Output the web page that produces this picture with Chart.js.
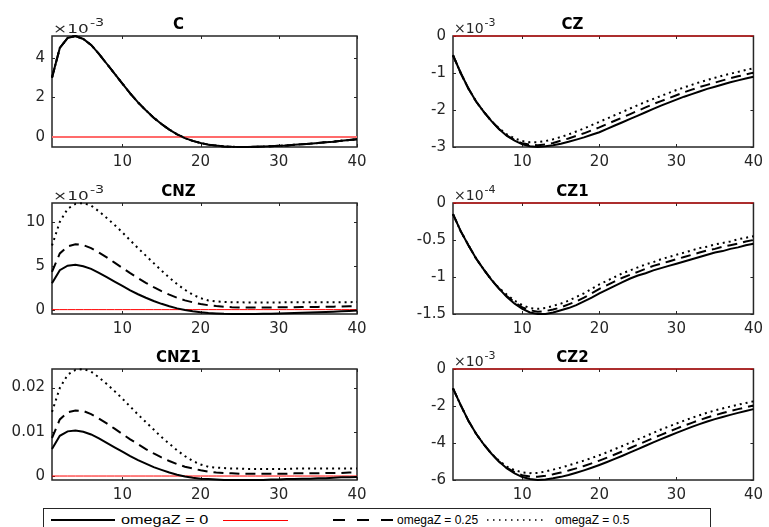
<!DOCTYPE html>
<html>
<head>
<meta charset="utf-8">
<script src="https://cdn.jsdelivr.net/npm/chart.js@4"></script>
<style>
  body { margin: 0; background: #fff; width: 769px; height: 527px; overflow: hidden; position: relative; font-family: "DejaVu Sans", sans-serif; }
  canvas { position: absolute; }
  #legend { position: absolute; left: 43px; top: 508px; width: 666px; height: 30px; border: 1px solid #262626; background: #fff; }
  .lg { position: absolute; top: 512px; font-family: "Liberation Sans", Arial, sans-serif; font-size: 12px; line-height: 16px; color: #000; white-space: nowrap; }
  .wide { font-size: 12.5px; transform: scaleX(1.3); transform-origin: 0 50%; }
</style>
</head>
<body>
<canvas id="pC" width="385" height="180" style="left:0;top:0"></canvas>
<canvas id="pCZ" width="384" height="180" style="left:385px;top:0"></canvas>
<canvas id="pCNZ" width="385" height="180" style="left:0;top:167px"></canvas>
<canvas id="pCZ1" width="384" height="180" style="left:385px;top:167px"></canvas>
<canvas id="pCNZ1" width="385" height="180" style="left:0;top:333px"></canvas>
<canvas id="pCZ2" width="384" height="180" style="left:385px;top:333px"></canvas>

<div id="legend"></div>
<svg width="769" height="527" style="position:absolute;left:0;top:0">
  <line x1="51" y1="520" x2="115" y2="520" stroke="#000" stroke-width="2"/>
  <line x1="223" y1="520.5" x2="288" y2="520.5" stroke="#ff0000" stroke-width="1"/>
  <line x1="333" y1="520" x2="395" y2="520" stroke="#000" stroke-width="2" stroke-dasharray="12,12"/>
  <line x1="487" y1="520" x2="547" y2="520" stroke="#000" stroke-width="1.5" stroke-dasharray="1.5,4.5"/>
</svg>
<span class="lg wide" style="left:121px">omegaZ = 0</span>
<span class="lg" style="left:397px">omegaZ = 0.25</span>
<span class="lg" style="left:555px">omegaZ = 0.5</span>

<script>
// horizon and axis ticks
const periods = [1,2,3,4,5,6,7,8,9,10,11,12,13,14,15,16,17,18,19,20,21,22,23,24,25,26,27,28,29,30,31,32,33,34,35,36,37,38,39,40];
const xTicks = [10, 20, 30, 40];
const zeroLine = [0,0,0,0,0,0,0,0,0,0,0,0,0,0,0,0,0,0,0,0,0,0,0,0,0,0,0,0,0,0,0,0,0,0,0,0,0,0,0,0];

// C (x10^-3) - same response for every omegaZ
const cAll = [3.0,4.5,5.0,5.1,4.95,4.65,4.2,3.7,3.2,2.7,2.2,1.75,1.35,0.98,0.66,0.38,0.14,-0.05,-0.19,-0.3,-0.38,-0.43,-0.47,-0.49,-0.5,-0.5,-0.49,-0.48,-0.46,-0.44,-0.42,-0.39,-0.36,-0.33,-0.3,-0.26,-0.23,-0.19,-0.15,-0.11];
const cTicks = [0, 2, 4];
const cRange = [-0.5, 5.1];

// CZ (x10^-3)
const czW0 = [-0.52,-1.0,-1.42,-1.77,-2.05,-2.3,-2.52,-2.7,-2.83,-2.93,-2.98,-3.0,-2.98,-2.95,-2.91,-2.86,-2.8,-2.74,-2.67,-2.6,-2.51,-2.42,-2.33,-2.24,-2.15,-2.06,-1.97,-1.88,-1.8,-1.72,-1.64,-1.57,-1.5,-1.43,-1.37,-1.31,-1.25,-1.2,-1.15,-1.1];
const czW025 = [-0.52,-1.0,-1.42,-1.77,-2.05,-2.3,-2.52,-2.69,-2.81,-2.9,-2.94,-2.95,-2.93,-2.89,-2.83,-2.77,-2.7,-2.63,-2.55,-2.47,-2.38,-2.29,-2.2,-2.11,-2.02,-1.93,-1.84,-1.76,-1.68,-1.6,-1.52,-1.45,-1.38,-1.32,-1.26,-1.2,-1.14,-1.09,-1.04,-0.99];
const czW05 = [-0.52,-1.0,-1.42,-1.77,-2.05,-2.3,-2.5,-2.66,-2.77,-2.84,-2.87,-2.87,-2.84,-2.79,-2.73,-2.66,-2.58,-2.5,-2.41,-2.32,-2.23,-2.14,-2.05,-1.96,-1.87,-1.78,-1.7,-1.62,-1.54,-1.46,-1.39,-1.32,-1.25,-1.19,-1.13,-1.07,-1.02,-0.97,-0.92,-0.87];
const czTicks = [-3, -2, -1, 0];
const czRange = [-3.0, 0];

// CNZ (x10^-3)
const cnzW0 = [3.0,4.5,5.0,5.1,4.95,4.65,4.2,3.7,3.2,2.7,2.2,1.75,1.35,0.98,0.66,0.38,0.14,-0.05,-0.19,-0.3,-0.38,-0.43,-0.47,-0.49,-0.5,-0.5,-0.49,-0.48,-0.46,-0.44,-0.42,-0.39,-0.36,-0.33,-0.3,-0.26,-0.23,-0.19,-0.15,-0.11];
const cnzW025 = [4.3,6.4,7.2,7.45,7.35,7.0,6.5,5.95,5.35,4.75,4.15,3.6,3.05,2.55,2.1,1.7,1.35,1.05,0.83,0.64,0.5,0.4,0.33,0.28,0.25,0.24,0.24,0.24,0.25,0.26,0.27,0.28,0.29,0.3,0.31,0.33,0.34,0.36,0.37,0.39];
const cnzW05 = [7.3,10.0,11.5,12.05,12.15,11.85,11.2,10.45,9.65,8.8,7.9,7.0,6.15,5.3,4.45,3.65,2.9,2.25,1.7,1.3,1.05,0.93,0.87,0.84,0.83,0.82,0.82,0.82,0.82,0.82,0.83,0.83,0.83,0.84,0.84,0.84,0.85,0.85,0.85,0.86];
const cnzTicks = [0, 5, 10];
const cnzRange = [-0.5, 12.15];

// CZ1 (x10^-4)
const cz1W0 = [-0.15,-0.38,-0.57,-0.75,-0.9,-1.04,-1.16,-1.27,-1.36,-1.43,-1.48,-1.5,-1.5,-1.48,-1.45,-1.42,-1.38,-1.33,-1.28,-1.22,-1.17,-1.12,-1.07,-1.02,-0.98,-0.95,-0.91,-0.88,-0.85,-0.82,-0.79,-0.76,-0.73,-0.7,-0.67,-0.65,-0.62,-0.6,-0.57,-0.55];
const cz1W025 = [-0.15,-0.38,-0.57,-0.75,-0.9,-1.04,-1.16,-1.26,-1.34,-1.41,-1.45,-1.47,-1.46,-1.44,-1.41,-1.37,-1.33,-1.28,-1.22,-1.16,-1.11,-1.06,-1.01,-0.97,-0.93,-0.89,-0.85,-0.82,-0.79,-0.76,-0.73,-0.7,-0.67,-0.64,-0.62,-0.59,-0.57,-0.55,-0.52,-0.5];
const cz1W05 = [-0.15,-0.38,-0.57,-0.75,-0.9,-1.04,-1.15,-1.24,-1.32,-1.38,-1.42,-1.43,-1.42,-1.39,-1.36,-1.32,-1.27,-1.22,-1.16,-1.1,-1.05,-1.0,-0.95,-0.91,-0.87,-0.83,-0.8,-0.76,-0.73,-0.7,-0.67,-0.64,-0.61,-0.59,-0.56,-0.54,-0.52,-0.49,-0.47,-0.45];
const cz1Ticks = [-1.5, -1, -0.5, 0];
const cz1Range = [-1.5, 0];

// CNZ1
const cnz1W0 = [0.0061,0.0091,0.0101,0.0103,0.01,0.0094,0.0085,0.0075,0.0065,0.0055,0.0045,0.0036,0.0028,0.002,0.0014,0.0008,0.0003,-0.0001,-0.0004,-0.0006,-0.0007,-0.0008,-0.0009,-0.0009,-0.0009,-0.0009,-0.0009,-0.0009,-0.0008,-0.0008,-0.0007,-0.0007,-0.0006,-0.0006,-0.0005,-0.0005,-0.0004,-0.0003,-0.0003,-0.0002];
const cnz1W025 = [0.0086,0.0128,0.0144,0.0148,0.0147,0.014,0.013,0.0119,0.0107,0.0095,0.0083,0.0072,0.0061,0.0051,0.0042,0.0034,0.0027,0.0021,0.0017,0.0013,0.001,0.0008,0.0007,0.0006,0.0005,0.0005,0.0005,0.0005,0.0005,0.0005,0.0005,0.0006,0.0006,0.0006,0.0006,0.0007,0.0007,0.0007,0.0008,0.0008];
const cnz1W05 = [0.0145,0.0199,0.0229,0.024,0.0242,0.0236,0.0223,0.0208,0.0192,0.0175,0.0157,0.0139,0.0122,0.0105,0.0088,0.0073,0.0058,0.0045,0.0034,0.0026,0.0021,0.0019,0.0018,0.0017,0.0017,0.0016,0.0016,0.0016,0.0016,0.0016,0.0016,0.0017,0.0017,0.0017,0.0017,0.0017,0.0017,0.0017,0.0017,0.0017];
const cnz1Ticks = [0, 0.01, 0.02];
const cnz1Range = [-0.0009, 0.0242];

// CZ2 (x10^-3)
const cz2W0 = [-1.05,-1.95,-2.8,-3.5,-4.08,-4.58,-5.02,-5.38,-5.64,-5.84,-5.95,-6.0,-5.97,-5.91,-5.83,-5.73,-5.61,-5.48,-5.34,-5.19,-5.03,-4.86,-4.69,-4.51,-4.33,-4.15,-3.97,-3.79,-3.62,-3.45,-3.29,-3.13,-2.98,-2.84,-2.71,-2.59,-2.48,-2.37,-2.27,-2.17];
const cz2W025 = [-1.05,-1.95,-2.8,-3.5,-4.08,-4.58,-5.02,-5.35,-5.58,-5.74,-5.81,-5.82,-5.77,-5.69,-5.6,-5.49,-5.37,-5.24,-5.1,-4.95,-4.79,-4.62,-4.45,-4.27,-4.09,-3.91,-3.73,-3.56,-3.39,-3.22,-3.06,-2.91,-2.76,-2.62,-2.5,-2.38,-2.27,-2.17,-2.07,-1.97];
const cz2W05 = [-1.05,-1.95,-2.8,-3.5,-4.08,-4.58,-4.97,-5.28,-5.47,-5.59,-5.63,-5.62,-5.54,-5.44,-5.33,-5.21,-5.08,-4.95,-4.81,-4.66,-4.5,-4.33,-4.16,-3.98,-3.8,-3.63,-3.45,-3.27,-3.11,-2.95,-2.79,-2.64,-2.5,-2.36,-2.24,-2.13,-2.03,-1.93,-1.84,-1.75];
const cz2Ticks = [-6, -4, -2, 0];
const cz2Range = [-6, 0];

const FONT = '"DejaVu Sans", sans-serif';
const AXIS_COLOR = '#262626';

// MATLAB-like box, inward ticks and the x10^n label
const matlabAxes = {
  id: 'matlabAxes',
  beforeDatasetsDraw(chart, args, opts) {
    const { ctx, chartArea: a, scales: { x, y } } = chart;
    ctx.save();
    ctx.strokeStyle = AXIS_COLOR;
    ctx.lineWidth = 1;
    ctx.beginPath();
    x.ticks.forEach(t => {
      const px = Math.round(x.getPixelForValue(t.value)) + 0.5;
      ctx.moveTo(px, a.bottom); ctx.lineTo(px, a.bottom - 3);
      ctx.moveTo(px, a.top); ctx.lineTo(px, a.top + 3);
    });
    y.ticks.forEach(t => {
      const py = Math.round(y.getPixelForValue(t.value)) + 0.5;
      ctx.moveTo(a.left, py); ctx.lineTo(a.left + 3, py);
      ctx.moveTo(a.right, py); ctx.lineTo(a.right - 3, py);
    });
    ctx.stroke();
    ctx.lineWidth = 1.5;
    ctx.strokeRect(a.left, a.top, a.right - a.left, a.bottom - a.top);
    if (opts.exponent) {
      // the left column of the reference is drawn a little wider
      const sx = opts.stretch || 1;
      ctx.translate(a.left + 1, a.top - 3);
      ctx.scale(sx, 1);
      ctx.fillStyle = AXIS_COLOR;
      ctx.textBaseline = 'alphabetic';
      ctx.font = (sx > 1 ? '13px ' : '14px ') + FONT;
      ctx.fillText('\u00d710', 0, 0);
      const w = ctx.measureText('\u00d710').width;
      ctx.font = '11px ' + FONT;
      ctx.fillText(opts.exponent, w + 1, -7);
    }
    ctx.restore();
  }
};

function makePanel(id, title, series, range, yTicks, exponent, axisWidth, rightPad, zeroStyle, stretch) {
  const black = { borderColor: '#000', borderWidth: 2, pointRadius: 0, tension: 0, clip: 4, fill: false };
  new Chart(document.getElementById(id), {
    type: 'line',
    data: {
      labels: periods,
      datasets: [
        Object.assign({ label: 'omegaZ = 0', data: series[0] }, black),
        { label: '', data: zeroLine, borderColor: zeroStyle.color, borderWidth: zeroStyle.width, pointRadius: 0, clip: 4 },
        Object.assign({ label: 'omegaZ = 0.25', data: series[1], borderDash: [10, 6] }, black),
        Object.assign({ label: 'omegaZ = 0.5', data: series[2], borderDash: [2, 4] }, black)
      ]
    },
    options: {
      responsive: false,
      animation: false,
      devicePixelRatio: 1,
      layout: { padding: { top: 0, left: 0, right: rightPad, bottom: 0 } },
      plugins: {
        legend: { display: false },
        tooltip: { enabled: false },
        title: {
          display: true, text: title, color: '#000',
          font: { family: FONT, size: 15, weight: 'bold', lineHeight: 1.2 },
          padding: { top: 16, bottom: 2 }
        },
        matlabAxes: { exponent: exponent, stretch: stretch }
      },
      scales: {
        x: {
          type: 'linear', min: 1, max: 40,
          grid: { display: false, drawTicks: false }, border: { display: false },
          afterBuildTicks: s => { s.ticks = xTicks.map(v => ({ value: v })); },
          afterFit: s => { s.height = 33; },
          ticks: { color: AXIS_COLOR, font: { family: FONT, size: 15 }, padding: 6, maxRotation: 0, callback: v => String(v) }
        },
        y: {
          min: range[0], max: range[1],
          grid: { display: false, drawTicks: false }, border: { display: false },
          afterBuildTicks: s => { s.ticks = yTicks.map(v => ({ value: v })); },
          afterFit: s => { s.width = axisWidth; },
          ticks: { color: AXIS_COLOR, font: { family: FONT, size: 15 }, padding: 7, callback: v => String(v) }
        }
      }
    },
    plugins: [matlabAxes]
  });
}

const thinRed = { color: '#ff0000', width: 1 };
makePanel('pC', 'C', [cAll, cAll, cAll], cRange, cTicks, '-3', 52, 28, { color: '#ff6b6b', width: 2 }, 1.3);
makePanel('pCZ', 'CZ', [czW0, czW025, czW05], czRange, czTicks, '-3', 68, 9, thinRed, 1);
makePanel('pCNZ', 'CNZ', [cnzW0, cnzW025, cnzW05], cnzRange, cnzTicks, '-3', 52, 28, thinRed, 1.3);
makePanel('pCZ1', 'CZ1', [cz1W0, cz1W025, cz1W05], cz1Range, cz1Ticks, '-4', 68, 9, thinRed, 1);
makePanel('pCNZ1', 'CNZ1', [cnz1W0, cnz1W025, cnz1W05], cnz1Range, cnz1Ticks, null, 52, 28, thinRed, 1.3);
makePanel('pCZ2', 'CZ2', [cz2W0, cz2W025, cz2W05], cz2Range, cz2Ticks, '-3', 68, 9, thinRed, 1);
</script>
</body>
</html>
